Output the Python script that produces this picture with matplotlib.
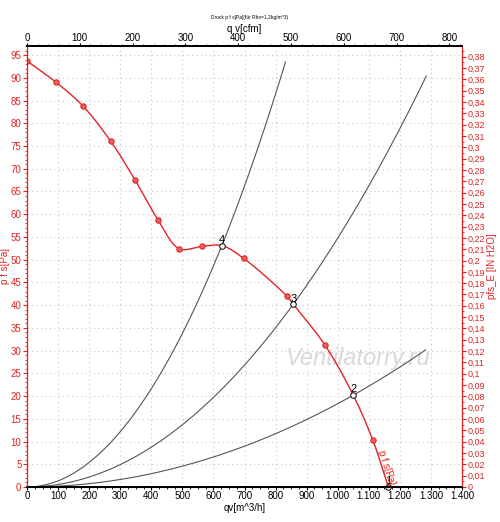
import numpy as np
import matplotlib
matplotlib.use("Agg")
import matplotlib.pyplot as plt
from matplotlib.ticker import MultipleLocator, FuncFormatter

plt.rcParams['font.family'] = ['Liberation Sans', 'DejaVu Sans']

# Fan curve (qv m^3/h, static pressure Pa)
fan_q = [0, 92, 180, 270, 348, 422, 490, 562, 627, 697, 836, 857, 959, 1050, 1113, 1163]
fan_p = [93.7, 89.1, 83.8, 76.0, 67.5, 58.7, 52.4, 52.9, 53.1, 50.3, 42.0, 40.2, 31.2, 20.2, 10.3, 0.0]
# Operating points (labelled)
op_labels = ["1", "2", "3", "4"]
op_q = [1163, 1050, 857, 627]
op_p = [0.0, 20.2, 40.2, 53.1]
# System curve end flows (for curves through points 2, 3, 4)
sys_labels = ["2", "3", "4"]
sys_qend = [1283, 1285, 832]

Q_MAX = 1400
P_MAX = 97.0
CFM = 1.699
INH2O = 249.09

def catmull_rom(xs, ys, n=30):
    pts = np.column_stack([np.asarray(xs) / Q_MAX, np.asarray(ys) / P_MAX])
    P = np.vstack([2 * pts[0] - pts[1], pts, 2 * pts[-1] - pts[-2]])
    out = []
    for i in range(1, len(P) - 2):
        p0, p1, p2, p3 = P[i - 1], P[i], P[i + 1], P[i + 2]
        a = 0.5
        t0 = 0.0
        t1 = t0 + np.linalg.norm(p1 - p0) ** a
        t2 = t1 + np.linalg.norm(p2 - p1) ** a
        t3 = t2 + np.linalg.norm(p3 - p2) ** a
        t = np.linspace(t1, t2, n)[:, None]
        A1 = (t1 - t) / (t1 - t0) * p0 + (t - t0) / (t1 - t0) * p1
        A2 = (t2 - t) / (t2 - t1) * p1 + (t - t1) / (t2 - t1) * p2
        A3 = (t3 - t) / (t3 - t2) * p2 + (t - t2) / (t3 - t2) * p3
        B1 = (t2 - t) / (t2 - t0) * A1 + (t - t0) / (t2 - t0) * A2
        B2 = (t3 - t) / (t3 - t1) * A2 + (t - t1) / (t3 - t1) * A3
        C = (t2 - t) / (t2 - t1) * B1 + (t - t1) / (t2 - t1) * B2
        out.append(C)
    c = np.vstack(out)
    return c[:, 0] * Q_MAX, c[:, 1] * P_MAX

fig = plt.figure(figsize=(5.0, 5.22), dpi=100)
ax = fig.add_axes([27 / 500, 1 - 487 / 522, 435 / 500, 441 / 522])

red = '#e02424'
ax.set_xlim(0, Q_MAX)
ax.set_ylim(0, P_MAX)

# grid
ax.grid(True, which='major', color='#c8c8c8', linestyle=(0, (1, 3)), linewidth=0.8)

# system curves
for lab, qe in zip(sys_labels, sys_qend):
    i = op_labels.index(lab)
    k = op_p[i] / op_q[i] ** 2
    qq = np.linspace(0, qe, 200)
    ax.plot(qq, k * qq ** 2, color='#555555', lw=0.8, zorder=3)

# watermark
ax.text(1065, 28.3, "Ventilatorry.ru", fontsize=17, style='italic',
        color='#d8d8d8', ha='center', va='center', zorder=2)

# fan curve
cx, cy = catmull_rom(fan_q, fan_p)
ax.plot(cx, cy, color=red, lw=1.0, zorder=4)
mk_q = [q for q in fan_q if q not in op_q]
mk_p = [p for q, p in zip(fan_q, fan_p) if q not in op_q]
ax.plot(mk_q, mk_p, 'o', ms=3.8, mfc='#f06060', mec=red, mew=0.8, zorder=5)

# operating points
ax.plot(op_q, op_p, 'o', ms=4, mfc='white', mec='black', mew=0.7, zorder=6, clip_on=False)
for lab, q, p in zip(op_labels, op_q, op_p):
    ax.annotate(lab, (q, p), xytext=(0, 0.5), textcoords='offset points',
                ha='center', va='bottom', fontsize=8, color='black', zorder=7)

ax.text(1156, 4.2, "p f s[Pa]", color=red, fontsize=7, rotation=-72,
        ha='center', va='center', rotation_mode='anchor', zorder=7)

# bottom axis
ax.xaxis.set_major_locator(MultipleLocator(100))
ax.xaxis.set_minor_locator(MultipleLocator(25))
ax.xaxis.set_major_formatter(FuncFormatter(lambda v, _: f"{int(round(v)):,}".replace(",", ".")))
ax.tick_params(axis='x', which='major', labelsize=7, length=2, pad=1, direction='out')
ax.tick_params(axis='x', which='minor', length=1.2)
ax.set_xlabel("qv[m^3/h]", fontsize=7, labelpad=1)

# left axis
ax.yaxis.set_major_locator(MultipleLocator(5))
ax.yaxis.set_minor_locator(MultipleLocator(1))
ax.tick_params(axis='y', which='major', labelsize=7, length=3, pad=1, colors=red)
ax.tick_params(axis='y', which='minor', length=1.5, colors=red)
ax.set_ylabel("p f s[Pa]", fontsize=7, color=red)
ax.yaxis.set_label_coords(-0.038, 0.5)

for s in ['left', 'right']:
    ax.spines[s].set_color(red)
ax.spines['bottom'].set_linewidth(1.4)
ax.spines['top'].set_linewidth(1.4)

# right axis (in H2O)
ax2 = ax.twinx()
ax2.set_ylim(0, P_MAX / INH2O)
ax2.yaxis.set_major_locator(MultipleLocator(0.01))
ax2.yaxis.set_minor_locator(MultipleLocator(0.005))
def fmt_in(v, _):
    s = f"{v:.2f}".rstrip('0').rstrip('.')
    return s.replace('.', ',')
ax2.yaxis.set_major_formatter(FuncFormatter(fmt_in))
ax2.tick_params(axis='y', which='major', labelsize=6.5, length=3, pad=1, colors=red)
ax2.tick_params(axis='y', which='minor', length=1.5, colors=red)
ax2.set_ylabel("pfs_E [IN H2O]", fontsize=7, color=red)
ax2.yaxis.set_label_coords(1.058, 0.5)
ax2.spines['right'].set_color(red)
ax2.spines['left'].set_color(red)
ax2.spines['top'].set_linewidth(1.4)
ax2.spines['bottom'].set_linewidth(1.4)

# top axis (cfm)
ax3 = ax.twiny()
ax3.set_xlim(0, Q_MAX / CFM)
ax3.xaxis.set_major_locator(MultipleLocator(100))
ax3.xaxis.set_minor_locator(MultipleLocator(20))
ax3.tick_params(axis='x', which='major', labelsize=7, length=2, pad=0.5)
ax3.tick_params(axis='x', which='minor', length=1.2)
ax3.set_xlabel("q v[cfm]", fontsize=7)
ax3.xaxis.set_label_coords(0.5, (487 - 29) / 441)
ax3.xaxis.label.set_va('center')
ax3.spines['top'].set_linewidth(1.4)
ax3.spines['left'].set_color(red)
ax3.spines['right'].set_color(red)

fig.text(0.5, 1 - 18 / 522, "Druck p f s[Pa](für Rho=1,2kg/m^3)", fontsize=3.5,
         ha='center', va='center')

fig.savefig("out.png", dpi=100)
